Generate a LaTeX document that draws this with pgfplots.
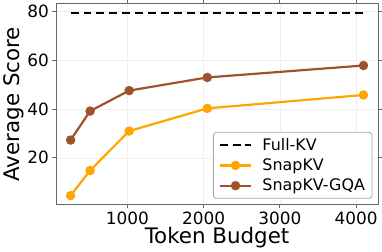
\documentclass[border=0pt]{standalone}
\usepackage{fontspec}
\setmainfont{DejaVu Sans}
\usepackage{pgfplots}
\pgfplotsset{compat=1.18}
\definecolor{snap}{HTML}{FFA500}
\definecolor{gqa}{HTML}{A0522D}
\begin{document}
\begin{tikzpicture}
\begin{axis}[
  scale only axis, width=324pt, height=202pt,
  xmin=64, xmax=4288, ymin=0.75, ymax=83.2,
  xtick={1000,2000,3000,4000}, ytick={20,40,60,80},
  scaled x ticks=false,
  /pgf/number format/assume math mode=true,
  /pgf/number format/1000 sep={},
  tick label style={font=\fontsize{17}{17}\selectfont},
  label style={font=\fontsize{21.5}{21.5}\selectfont},
  xlabel={Token Budget}, ylabel={Average Score},
  xlabel style={yshift=4pt}, ylabel style={yshift=-3pt},
  grid=major, grid style={gray!12, line width=0.5pt},
  axis line style={gray!80!black, line width=0.8pt},
  tick align=outside, tick style={gray!80!black, line width=0.8pt}, major tick length=3.5pt,
  legend cell align=left,
  legend image code/.code={\draw[mark repeat=2,mark phase=2,#1] plot coordinates {(0pt,0pt) (16pt,0pt) (32pt,0pt)};},
  legend style={font=\fontsize{16}{16}\selectfont, draw=gray!70, line width=0.8pt, rounded corners=2pt,
    at={(0.982,0.03)}, anchor=south east, row sep=3pt, inner xsep=5pt, inner ysep=4pt,
    /tikz/every odd column/.append style={column sep=8pt}},
]
\addplot[black, line width=2.2pt, dash pattern=on 8pt off 5pt] coordinates {(256,79.4) (4096,79.4)};
\addlegendentry{Full-KV}
\addplot[snap, line width=2.2pt, mark=*, mark size=3.6pt] coordinates {(256,4.5) (512,14.8) (1024,31.0) (2048,40.3) (4096,45.8)};
\addlegendentry{SnapKV}
\addplot[gqa, line width=2.2pt, mark=*, mark size=3.6pt] coordinates {(256,27.3) (512,39.2) (1024,47.6) (2048,53.0) (4096,57.9)};
\addlegendentry{SnapKV-GQA}
\end{axis}
\end{tikzpicture}
\end{document}
